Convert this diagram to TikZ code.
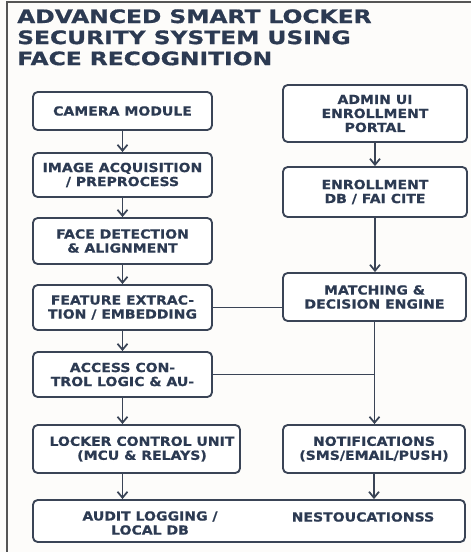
\documentclass[tikz,border=0pt]{standalone}
\usepackage{fontspec}
\setmainfont{DejaVu Sans}
\newfontfamily\boxfont{DejaVu Sans Bold}[FakeStretch=1.12,FakeBold=0.6]
\newfontfamily\titlefont{DejaVu Sans Bold}[FakeStretch=1.26,FakeBold=0.8]
\usetikzlibrary{arrows.meta}
\definecolor{navy}{HTML}{2C3A52}
\definecolor{edge}{HTML}{3A4456}
\definecolor{paper}{HTML}{FDFCFA}
\definecolor{frame}{HTML}{555555}
\tikzset{
  box/.style={draw=edge, line width=1.4pt, rounded corners=3.5pt, fill=white,
    align=center, text=navy, font=\boxfont\fontsize{9.4}{10.5}\selectfont, inner sep=0pt},
  arr/.style={draw=edge, line width=1.4pt, -{Straight Barb[length=4.5pt,width=7.5pt,line width=1.3pt]}},
  ln/.style={draw=edge, line width=1.4pt},
  lbl/.style={text=navy, align=center, font=\boxfont\fontsize{9.4}{10.5}\selectfont, inner sep=0pt},
}
\begin{document}
\begin{tikzpicture}[x=0.75pt,y=-0.75pt]
\useasboundingbox (0,0) rectangle (471,552);
\fill[paper] (0,0) rectangle (471,552);
\draw[frame, line width=1.5pt] (7,552) -- (7,2) -- (471,2);
\node[anchor=north west, align=left, text=navy, inner sep=0pt,
  font=\titlefont\fontsize{13.9}{15.8}\selectfont] (title) at (17,9)
  {ADVANCED SMART LOCKER\\SECURITY SYSTEM USING\\FACE RECOGNITION};
% left column
\node[box, minimum width=134.25pt, minimum height=28.5pt] (cam) at (122.5,111) {CAMERA MODULE};
\node[box, minimum width=134.25pt, minimum height=33pt] (acq) at (122.5,175) {IMAGE ACQUISITION\\/ PREPROCESS};
\node[box, minimum width=134.25pt, minimum height=34.5pt] (det) at (122.5,241) {FACE DETECTION\\\& ALIGNMENT};
\node[box, minimum width=134.25pt, minimum height=33.75pt] (feat) at (122.5,307.5) {FEATURE EXTRAC-\\TION / EMBEDDING};
\node[box, minimum width=134.25pt, minimum height=33.75pt] (acc) at (122.5,374.5) {ACCESS CON-\\TROL LOGIC \& AU-};
\node[box, minimum width=155.25pt, minimum height=36pt] (lock) at (136.5,449) {};
\node[lbl] (locktxt) at (142,449) {LOCKER CONTROL UNIT\\(MCU \& RELAYS)};
% right column
\node[box, minimum width=138pt, minimum height=42.75pt] (admin) at (375,113.5) {ADMIN UI\\ENROLLMENT\\PORTAL};
\node[box, minimum width=138pt, minimum height=37.5pt] (enr) at (375,192) {ENROLLMENT\\DB / FAI CITE};
\node[box, minimum width=137.25pt, minimum height=36pt] (match) at (374.5,297) {MATCHING \&\\DECISION ENGINE};
\node[box, minimum width=136.5pt, minimum height=36pt] (notif) at (374,449) {NOTIFICATIONS\\(SMS/EMAIL/PUSH)};
% bottom
\node[box, minimum width=324pt, minimum height=31.5pt] (bottom) at (249,521) {};
\node[lbl] (audit) at (150,523) {AUDIT LOGGING /\\LOCAL DB};
\node[lbl] (nest) at (363,517) {NESTOUCATIONSS};
% connectors
\draw[arr] (cam) -- (acq);
\draw[arr] (acq) -- (det);
\draw[arr] (det) -- (feat);
\draw[arr] (feat) -- (acc);
\draw[arr] (acc.south) -- (acc.south |- lock.north);
\draw[arr] (acc.south |- lock.south) -- (acc.south |- bottom.north);
\draw[arr] (admin) -- (enr);
\draw[arr] (enr.south) -- (enr.south |- match.north);
\draw[ln] (feat.east) -- (feat.east -| match.west);
\coordinate (join) at (match.south |- acc.east);
\draw[ln] (acc.east) -- (join);
\draw[arr] (match.south) -- (match.south |- notif.north);
\draw[arr] (notif.south) -- (notif.south |- bottom.north);
\end{tikzpicture}
\end{document}
